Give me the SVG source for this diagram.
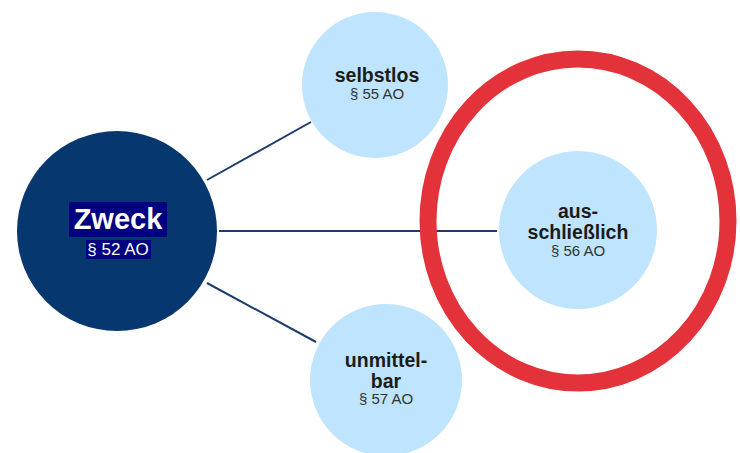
<svg xmlns="http://www.w3.org/2000/svg" width="740" height="453" viewBox="0 0 740 453">
<style>
.lc{fill:#bfe4fd}
.t{font-family:"Liberation Sans",Arial,sans-serif;text-anchor:middle;fill:#1b1b1b}
.b{font-weight:bold;font-size:19.5px}
.s{font-size:15px;fill:#333}
.con{stroke:#1d3c6e;stroke-width:2;fill:none}
</style>
<rect width="740" height="453" fill="#fff"/>
<g id="connectors">
<line class="con" x1="207" y1="180" x2="311" y2="122"/>
<line class="con" x1="219" y1="231" x2="497" y2="231"/>
<line class="con" x1="207" y1="283" x2="316" y2="342"/>
</g>
<g id="zweck">
<circle cx="117" cy="231" r="100" fill="#06376f"/>
<rect x="69" y="202" width="98" height="35" fill="#000080"/>
<rect x="86" y="240" width="65" height="19" fill="#000080"/>
<text class="t" x="118" y="229" style="font-weight:bold;font-size:29px;fill:#fff">Zweck</text>
<text class="t" x="118" y="255" style="font-size:17px;fill:#fff">§ 52 AO</text>
</g>
<g id="selbstlos">
<circle class="lc" cx="375" cy="85" r="73"/>
<text class="t b" x="377" y="82">selbstlos</text>
<text class="t s" x="377" y="99">§ 55 AO</text>
</g>
<g id="ausschliesslich">
<circle class="lc" cx="578" cy="230" r="79"/>
<text class="t b" x="578" y="218">aus-</text>
<text class="t b" x="578" y="239">schließlich</text>
<text class="t s" x="578" y="256">§ 56 AO</text>
</g>
<g id="unmittelbar">
<circle class="lc" cx="386" cy="380" r="76"/>
<text class="t b" x="386" y="367">unmittel-</text>
<text class="t b" x="386" y="388">bar</text>
<text class="t s" x="386" y="404">§ 57 AO</text>
</g>
<g id="highlight">
<ellipse cx="578" cy="221" rx="150" ry="162" fill="none" stroke="#e3323a" stroke-width="17"/>
</g>
</svg>
